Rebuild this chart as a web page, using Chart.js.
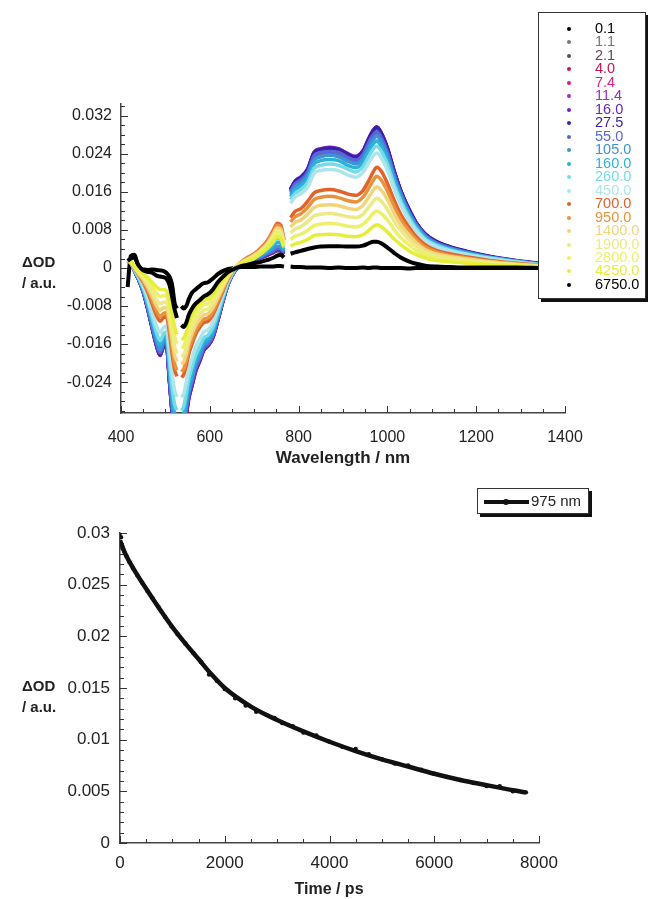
<!DOCTYPE html>
<html>
<head>
<meta charset="utf-8">
<title>Transient absorption spectra and 975 nm kinetics</title>
<script src="https://cdn.jsdelivr.net/npm/chart.js@4.4.1/dist/chart.umd.min.js"></script>
<style>
  html, body { margin: 0; padding: 0; background: #fff; overflow: hidden; }
  #page { position: relative; width: 648px; height: 899px; overflow: hidden;
          font-family: "Liberation Sans", Arial, Helvetica, sans-serif; color: #222; }
  canvas { position: absolute; left: 0; }
  .ytitle { position: absolute; left: 22px; font-weight: bold; font-size: 15px; line-height: 21px; }
  .xtitle { position: absolute; font-weight: bold; transform: translate(-50%, -50%); white-space: nowrap; }
  #spectraLegend { position: absolute; left: 538px; top: 12px; width: 108px; height: 287px;
                   box-sizing: border-box; border: 1px solid #333; box-shadow: 3px 3px 0 #111;
                   background: #fff; padding-top: 9px; }
  .entry { position: relative; height: 13.47px; line-height: 13.47px; font-size: 14.5px; }
  .entry .dot { position: absolute; left: 28px; top: 5px; width: 4px; height: 4px; border-radius: 50%; }
  .entry .lbl { position: absolute; left: 56px; top: 0; }
  #kineticLegend { position: absolute; left: 477px; top: 488px; width: 112px; height: 26px;
                   box-sizing: border-box; border: 1px solid #333; box-shadow: 3px 3px 0 #111; background: #fff; }
  #kineticLegend .line { position: absolute; left: 6px; top: 11px; width: 45px; height: 3.5px; background: #111; }
  #kineticLegend .dot { position: absolute; left: 25px; top: 10px; width: 6px; height: 6px; border-radius: 50%; background: #111; }
  #kineticLegend .lbl { position: absolute; left: 53px; top: 4px; font-size: 15px; line-height: 16px; }
</style>
</head>
<body>
<div id="page">
  <canvas id="spectraChart" width="648" height="480" style="top:0"></canvas>
  <canvas id="kineticChart" width="648" height="419" style="top:480px"></canvas>
  <div class="ytitle" style="top:251px">ΔOD<br>/ a.u.</div>
  <div class="ytitle" style="top:675px">ΔOD<br>/ a.u.</div>
  <div class="xtitle" style="left:343px; top:458px; font-size:17px">Wavelength / nm</div>
  <div class="xtitle" style="left:329px; top:889px; font-size:16px">Time / ps</div>
  <div id="spectraLegend"></div>
  <div id="kineticLegend"><div class="line"></div><div class="dot"></div><div class="lbl">975 nm</div></div>
</div>
<script>
// Wellenlängen (nm); null-Lücken bei 530 nm (Pump-Streulicht) und 773 nm (Detektorwechsel)
const wavelength = [
  415, 422, 430, 440, 450, 460, 470, 480, 488, 495, 502, 509, 515, 521, 526, 530,
  536, 541, 547, 553, 560, 568, 577, 586, 596, 607, 618, 630, 642, 655, 670, 685,
  700, 715, 730, 742, 752, 760, 767, 773,
  782, 792, 805, 820, 835, 850, 870, 890, 910, 928, 945, 958, 968, 976, 986, 1000,
  1015, 1030, 1048, 1065, 1085, 1110, 1140, 1180, 1230, 1290, 1340
];

// Verzögerungszeiten (ps) und Farben der Spektren
const delayLabels = ['0.1', '1.1', '2.1', '4.0', '7.4', '11.4', '16.0', '27.5', '55.0', '105.0',
  '160.0', '260.0', '450.0', '700.0', '950.0', '1400.0', '1900.0', '2800.0', '4250.0', '6750.0'];
const delayColors = ['#000000', '#767676', '#5c4a5c', '#c4174f', '#d8207e', '#9b2cc8', '#6a24bf',
  '#3b1fa6', '#5668d8', '#3d93d8', '#2cb2d8', '#74dbe9', '#aee5eb', '#e2622c', '#e8923c',
  '#f2d47a', '#ecea86', '#eef06a', '#e6ee3a', '#000000'];

// ΔOD-Werte je Spektrum (sichtbar | NIR)
const dOD_0_1 = [
  -0.0040, 0.0025, 0.0028, 0.0000, -0.0003, -0.0004, -0.0003, -0.0004, -0.0005, -0.0006, -0.0010, -0.0018, -0.0035, -0.0075, -0.0085, null,
  -0.0080, -0.0085, -0.0080, -0.0065, -0.0052, -0.0045, -0.0038, -0.0032, -0.0030, -0.0022, -0.0013, -0.0006, -0.0002, 0.0000, 0.0002, 0.0002,
  0.0002, 0.0003, 0.0003, 0.0003, 0.0004, 0.0004, 0.0003, null,
  0.0003, 0.0002, 0.0002, 0.0001, 0.0001, 0.0001, 0.0000, 0.0001, 0.0000, 0.0000, 0.0001, 0.0000, 0.0001, 0.0001, 0.0000, 0.0000,
  0.0000, 0.0000, -0.0001, 0.0000, 0.0000, 0.0000, 0.0000, 0.0000, 0.0000, 0.0000, 0.0000];
const dOD_1_1 = [
  0.0014, 0.0011, -0.0005, -0.0024, -0.0048, -0.0082, -0.0120, -0.0156, -0.0175, -0.0158, -0.0152, -0.0226, -0.0288, -0.0326, -0.0336, null,
  -0.0336, -0.0326, -0.0293, -0.0259, -0.0235, -0.0206, -0.0187, -0.0165, -0.0156, -0.0139, -0.0106, -0.0065, -0.0031, -0.0008, 0.0008, 0.0014,
  0.0017, 0.0021, 0.0027, 0.0032, 0.0036, 0.0035, 0.0029, null,
  0.0159, 0.0175, 0.0183, 0.0199, 0.0233, 0.0240, 0.0243, 0.0240, 0.0230, 0.0225, 0.0236, 0.0261, 0.0277, 0.0284, 0.0273, 0.0242,
  0.0196, 0.0156, 0.0119, 0.0091, 0.0068, 0.0053, 0.0042, 0.0033, 0.0023, 0.0014, 0.0009];
const dOD_2_1 = [
  0.0015, 0.0012, -0.0005, -0.0025, -0.0049, -0.0083, -0.0123, -0.0159, -0.0178, -0.0162, -0.0155, -0.0230, -0.0294, -0.0333, -0.0343, null,
  -0.0343, -0.0333, -0.0299, -0.0265, -0.0240, -0.0211, -0.0191, -0.0169, -0.0159, -0.0142, -0.0108, -0.0067, -0.0031, -0.0008, 0.0008, 0.0015,
  0.0018, 0.0022, 0.0027, 0.0032, 0.0037, 0.0036, 0.0029, null,
  0.0163, 0.0178, 0.0187, 0.0203, 0.0238, 0.0245, 0.0248, 0.0245, 0.0235, 0.0229, 0.0241, 0.0267, 0.0283, 0.0290, 0.0278, 0.0247,
  0.0200, 0.0160, 0.0122, 0.0093, 0.0070, 0.0054, 0.0043, 0.0033, 0.0024, 0.0015, 0.0009];
const dOD_4_0 = [
  0.0015, 0.0012, -0.0005, -0.0025, -0.0050, -0.0086, -0.0126, -0.0164, -0.0184, -0.0167, -0.0160, -0.0238, -0.0304, -0.0345, -0.0356, null,
  -0.0356, -0.0346, -0.0310, -0.0274, -0.0248, -0.0218, -0.0197, -0.0174, -0.0164, -0.0147, -0.0111, -0.0069, -0.0032, -0.0008, 0.0008, 0.0015,
  0.0018, 0.0022, 0.0028, 0.0033, 0.0038, 0.0037, 0.0030, null,
  0.0164, 0.0180, 0.0189, 0.0205, 0.0241, 0.0248, 0.0250, 0.0248, 0.0238, 0.0232, 0.0244, 0.0269, 0.0286, 0.0293, 0.0281, 0.0249,
  0.0202, 0.0161, 0.0123, 0.0094, 0.0070, 0.0054, 0.0044, 0.0034, 0.0024, 0.0015, 0.0009];
const dOD_7_4 = [
  0.0015, 0.0012, -0.0005, -0.0025, -0.0050, -0.0086, -0.0126, -0.0164, -0.0184, -0.0167, -0.0160, -0.0237, -0.0303, -0.0344, -0.0354, null,
  -0.0354, -0.0345, -0.0309, -0.0273, -0.0247, -0.0217, -0.0197, -0.0174, -0.0163, -0.0146, -0.0111, -0.0069, -0.0032, -0.0008, 0.0008, 0.0015,
  0.0018, 0.0022, 0.0028, 0.0033, 0.0038, 0.0037, 0.0030, null,
  0.0165, 0.0181, 0.0190, 0.0206, 0.0242, 0.0249, 0.0252, 0.0249, 0.0239, 0.0233, 0.0245, 0.0271, 0.0288, 0.0295, 0.0283, 0.0251,
  0.0203, 0.0162, 0.0124, 0.0095, 0.0071, 0.0055, 0.0044, 0.0034, 0.0024, 0.0015, 0.0009];
const dOD_11_4 = [
  0.0015, 0.0012, -0.0005, -0.0025, -0.0050, -0.0085, -0.0125, -0.0162, -0.0182, -0.0165, -0.0158, -0.0235, -0.0300, -0.0340, -0.0350, null,
  -0.0350, -0.0340, -0.0305, -0.0270, -0.0245, -0.0215, -0.0195, -0.0172, -0.0162, -0.0145, -0.0110, -0.0068, -0.0032, -0.0008, 0.0008, 0.0015,
  0.0018, 0.0022, 0.0028, 0.0033, 0.0038, 0.0037, 0.0030, null,
  0.0166, 0.0182, 0.0191, 0.0207, 0.0243, 0.0250, 0.0253, 0.0250, 0.0240, 0.0234, 0.0246, 0.0272, 0.0289, 0.0296, 0.0284, 0.0252,
  0.0204, 0.0163, 0.0124, 0.0095, 0.0071, 0.0055, 0.0044, 0.0034, 0.0024, 0.0015, 0.0009];
const dOD_16_0 = [
  0.0015, 0.0012, -0.0005, -0.0025, -0.0050, -0.0085, -0.0125, -0.0163, -0.0183, -0.0166, -0.0159, -0.0236, -0.0301, -0.0341, -0.0351, null,
  -0.0351, -0.0341, -0.0306, -0.0271, -0.0246, -0.0216, -0.0196, -0.0173, -0.0163, -0.0146, -0.0110, -0.0068, -0.0032, -0.0008, 0.0008, 0.0015,
  0.0018, 0.0022, 0.0028, 0.0034, 0.0039, 0.0038, 0.0031, null,
  0.0166, 0.0183, 0.0192, 0.0208, 0.0244, 0.0251, 0.0254, 0.0251, 0.0241, 0.0235, 0.0247, 0.0273, 0.0290, 0.0297, 0.0285, 0.0253,
  0.0205, 0.0163, 0.0125, 0.0095, 0.0071, 0.0055, 0.0045, 0.0034, 0.0024, 0.0015, 0.0009];
const dOD_27_5 = [
  0.0015, 0.0012, -0.0005, -0.0025, -0.0050, -0.0085, -0.0125, -0.0162, -0.0182, -0.0165, -0.0158, -0.0234, -0.0299, -0.0338, -0.0348, null,
  -0.0348, -0.0338, -0.0304, -0.0269, -0.0244, -0.0214, -0.0194, -0.0171, -0.0161, -0.0144, -0.0109, -0.0068, -0.0032, -0.0008, 0.0008, 0.0015,
  0.0018, 0.0023, 0.0029, 0.0034, 0.0040, 0.0039, 0.0031, null,
  0.0165, 0.0181, 0.0190, 0.0206, 0.0242, 0.0249, 0.0252, 0.0249, 0.0239, 0.0233, 0.0245, 0.0271, 0.0288, 0.0296, 0.0284, 0.0252,
  0.0204, 0.0163, 0.0125, 0.0095, 0.0072, 0.0056, 0.0045, 0.0035, 0.0025, 0.0016, 0.0010];
const dOD_55 = [
  0.0015, 0.0012, -0.0005, -0.0025, -0.0049, -0.0083, -0.0123, -0.0159, -0.0179, -0.0162, -0.0155, -0.0230, -0.0294, -0.0334, -0.0344, null,
  -0.0344, -0.0334, -0.0300, -0.0266, -0.0241, -0.0211, -0.0192, -0.0169, -0.0160, -0.0143, -0.0108, -0.0067, -0.0032, -0.0008, 0.0008, 0.0015,
  0.0019, 0.0023, 0.0030, 0.0035, 0.0041, 0.0040, 0.0032, null,
  0.0161, 0.0177, 0.0185, 0.0201, 0.0236, 0.0243, 0.0245, 0.0243, 0.0233, 0.0227, 0.0239, 0.0264, 0.0280, 0.0287, 0.0275, 0.0244,
  0.0198, 0.0158, 0.0120, 0.0092, 0.0069, 0.0053, 0.0043, 0.0033, 0.0023, 0.0015, 0.0009];
const dOD_105 = [
  0.0015, 0.0012, -0.0004, -0.0024, -0.0047, -0.0080, -0.0118, -0.0153, -0.0172, -0.0156, -0.0150, -0.0220, -0.0282, -0.0321, -0.0332, null,
  -0.0332, -0.0323, -0.0290, -0.0257, -0.0232, -0.0204, -0.0185, -0.0163, -0.0155, -0.0138, -0.0105, -0.0065, -0.0031, -0.0007, 0.0009, 0.0016,
  0.0020, 0.0025, 0.0033, 0.0040, 0.0046, 0.0045, 0.0035, null,
  0.0155, 0.0170, 0.0179, 0.0194, 0.0227, 0.0234, 0.0237, 0.0234, 0.0225, 0.0219, 0.0230, 0.0255, 0.0270, 0.0277, 0.0266, 0.0236,
  0.0191, 0.0153, 0.0116, 0.0089, 0.0066, 0.0051, 0.0041, 0.0032, 0.0022, 0.0014, 0.0008];
const dOD_160 = [
  0.0015, 0.0011, -0.0004, -0.0022, -0.0044, -0.0075, -0.0111, -0.0145, -0.0162, -0.0148, -0.0142, -0.0207, -0.0266, -0.0305, -0.0316, null,
  -0.0316, -0.0308, -0.0277, -0.0245, -0.0221, -0.0194, -0.0175, -0.0156, -0.0148, -0.0132, -0.0100, -0.0062, -0.0029, -0.0006, 0.0009, 0.0017,
  0.0021, 0.0028, 0.0036, 0.0046, 0.0054, 0.0052, 0.0038, null,
  0.0150, 0.0164, 0.0172, 0.0187, 0.0219, 0.0226, 0.0228, 0.0226, 0.0216, 0.0211, 0.0222, 0.0245, 0.0261, 0.0267, 0.0256, 0.0227,
  0.0184, 0.0147, 0.0112, 0.0086, 0.0064, 0.0050, 0.0040, 0.0031, 0.0022, 0.0014, 0.0008];
const dOD_260 = [
  0.0015, 0.0011, -0.0003, -0.0021, -0.0042, -0.0070, -0.0104, -0.0136, -0.0153, -0.0140, -0.0134, -0.0193, -0.0250, -0.0288, -0.0299, null,
  -0.0300, -0.0292, -0.0263, -0.0232, -0.0209, -0.0184, -0.0166, -0.0148, -0.0141, -0.0125, -0.0095, -0.0060, -0.0028, -0.0005, 0.0010, 0.0018,
  0.0023, 0.0030, 0.0041, 0.0052, 0.0062, 0.0059, 0.0043, null,
  0.0144, 0.0157, 0.0165, 0.0179, 0.0210, 0.0216, 0.0219, 0.0216, 0.0208, 0.0202, 0.0213, 0.0235, 0.0250, 0.0256, 0.0246, 0.0218,
  0.0176, 0.0141, 0.0107, 0.0082, 0.0061, 0.0048, 0.0038, 0.0029, 0.0021, 0.0013, 0.0008];
const dOD_450 = [
  0.0015, 0.0011, -0.0002, -0.0018, -0.0037, -0.0062, -0.0093, -0.0122, -0.0136, -0.0126, -0.0122, -0.0170, -0.0222, -0.0259, -0.0271, null,
  -0.0272, -0.0265, -0.0240, -0.0212, -0.0190, -0.0166, -0.0150, -0.0135, -0.0130, -0.0114, -0.0087, -0.0055, -0.0026, -0.0004, 0.0011, 0.0020,
  0.0026, 0.0035, 0.0048, 0.0062, 0.0074, 0.0071, 0.0050, null,
  0.0136, 0.0149, 0.0156, 0.0169, 0.0199, 0.0205, 0.0207, 0.0205, 0.0196, 0.0191, 0.0201, 0.0222, 0.0236, 0.0242, 0.0232, 0.0206,
  0.0167, 0.0133, 0.0101, 0.0078, 0.0058, 0.0045, 0.0036, 0.0028, 0.0020, 0.0012, 0.0007];
const dOD_700 = [
  0.0015, 0.0010, 0.0000, -0.0015, -0.0030, -0.0050, -0.0075, -0.0100, -0.0112, -0.0105, -0.0102, -0.0135, -0.0180, -0.0215, -0.0228, null,
  -0.0230, -0.0225, -0.0205, -0.0180, -0.0160, -0.0140, -0.0125, -0.0115, -0.0112, -0.0098, -0.0075, -0.0048, -0.0022, -0.0002, 0.0012, 0.0022,
  0.0030, 0.0042, 0.0058, 0.0078, 0.0094, 0.0090, 0.0060, null,
  0.0106, 0.0119, 0.0125, 0.0140, 0.0158, 0.0163, 0.0165, 0.0162, 0.0156, 0.0153, 0.0163, 0.0184, 0.0202, 0.0212, 0.0204, 0.0178,
  0.0143, 0.0113, 0.0087, 0.0066, 0.0049, 0.0037, 0.0030, 0.0023, 0.0016, 0.0010, 0.0006];
const dOD_950 = [
  0.0015, 0.0011, 0.0001, -0.0014, -0.0027, -0.0046, -0.0068, -0.0091, -0.0102, -0.0096, -0.0094, -0.0125, -0.0167, -0.0202, -0.0215, null,
  -0.0218, -0.0213, -0.0195, -0.0170, -0.0151, -0.0132, -0.0118, -0.0108, -0.0105, -0.0092, -0.0070, -0.0045, -0.0020, -0.0002, 0.0011, 0.0021,
  0.0029, 0.0040, 0.0056, 0.0075, 0.0090, 0.0086, 0.0058, null,
  0.0097, 0.0108, 0.0114, 0.0127, 0.0144, 0.0149, 0.0151, 0.0148, 0.0142, 0.0139, 0.0149, 0.0168, 0.0184, 0.0193, 0.0185, 0.0162,
  0.0130, 0.0103, 0.0079, 0.0060, 0.0044, 0.0034, 0.0027, 0.0021, 0.0014, 0.0009, 0.0006];
const dOD_1400 = [
  0.0016, 0.0012, 0.0002, -0.0012, -0.0024, -0.0040, -0.0059, -0.0079, -0.0089, -0.0084, -0.0083, -0.0111, -0.0150, -0.0184, -0.0197, null,
  -0.0202, -0.0198, -0.0181, -0.0157, -0.0138, -0.0121, -0.0108, -0.0099, -0.0096, -0.0083, -0.0063, -0.0040, -0.0018, -0.0001, 0.0011, 0.0019,
  0.0027, 0.0038, 0.0052, 0.0070, 0.0084, 0.0081, 0.0055, null,
  0.0086, 0.0096, 0.0101, 0.0113, 0.0127, 0.0132, 0.0133, 0.0131, 0.0126, 0.0123, 0.0132, 0.0149, 0.0163, 0.0171, 0.0164, 0.0144,
  0.0115, 0.0091, 0.0070, 0.0053, 0.0039, 0.0030, 0.0024, 0.0019, 0.0013, 0.0008, 0.0005];
const dOD_1900 = [
  0.0017, 0.0013, 0.0003, -0.0010, -0.0020, -0.0034, -0.0050, -0.0067, -0.0075, -0.0072, -0.0072, -0.0097, -0.0133, -0.0166, -0.0180, null,
  -0.0186, -0.0183, -0.0167, -0.0144, -0.0126, -0.0110, -0.0098, -0.0089, -0.0086, -0.0074, -0.0056, -0.0035, -0.0015, -0.0001, 0.0010, 0.0018,
  0.0025, 0.0035, 0.0049, 0.0065, 0.0079, 0.0075, 0.0052, null,
  0.0074, 0.0082, 0.0087, 0.0097, 0.0110, 0.0113, 0.0115, 0.0112, 0.0108, 0.0106, 0.0113, 0.0128, 0.0140, 0.0147, 0.0141, 0.0123,
  0.0099, 0.0079, 0.0060, 0.0046, 0.0034, 0.0026, 0.0021, 0.0016, 0.0011, 0.0007, 0.0004];
const dOD_2800 = [
  0.0017, 0.0014, 0.0004, -0.0007, -0.0016, -0.0027, -0.0040, -0.0053, -0.0060, -0.0058, -0.0060, -0.0080, -0.0114, -0.0145, -0.0159, null,
  -0.0168, -0.0165, -0.0150, -0.0129, -0.0112, -0.0097, -0.0086, -0.0078, -0.0075, -0.0064, -0.0048, -0.0030, -0.0013, 0.0000, 0.0009, 0.0016,
  0.0022, 0.0033, 0.0046, 0.0060, 0.0072, 0.0069, 0.0048, null,
  0.0060, 0.0067, 0.0071, 0.0079, 0.0089, 0.0092, 0.0094, 0.0092, 0.0088, 0.0086, 0.0092, 0.0104, 0.0115, 0.0120, 0.0115, 0.0101,
  0.0081, 0.0064, 0.0049, 0.0037, 0.0028, 0.0021, 0.0017, 0.0013, 0.0009, 0.0005, 0.0004];
const dOD_4250 = [
  0.0018, 0.0015, 0.0005, -0.0005, -0.0012, -0.0020, -0.0030, -0.0040, -0.0045, -0.0045, -0.0048, -0.0065, -0.0095, -0.0125, -0.0140, null,
  -0.0150, -0.0148, -0.0135, -0.0115, -0.0098, -0.0085, -0.0075, -0.0068, -0.0065, -0.0055, -0.0040, -0.0025, -0.0010, 0.0000, 0.0008, 0.0014,
  0.0020, 0.0030, 0.0042, 0.0055, 0.0066, 0.0063, 0.0045, null,
  0.0046, 0.0051, 0.0054, 0.0060, 0.0068, 0.0070, 0.0071, 0.0070, 0.0067, 0.0066, 0.0070, 0.0079, 0.0087, 0.0091, 0.0087, 0.0076,
  0.0061, 0.0049, 0.0037, 0.0028, 0.0021, 0.0016, 0.0013, 0.0010, 0.0007, 0.0004, 0.0003];
const dOD_6750 = [
  0.0015, 0.0020, 0.0022, 0.0005, -0.0005, -0.0008, -0.0010, -0.0016, -0.0018, -0.0019, -0.0022, -0.0035, -0.0060, -0.0088, -0.0105, null,
  -0.0120, -0.0124, -0.0115, -0.0098, -0.0085, -0.0075, -0.0068, -0.0060, -0.0055, -0.0045, -0.0030, -0.0018, -0.0008, -0.0002, 0.0004, 0.0007,
  0.0010, 0.0013, 0.0017, 0.0021, 0.0026, 0.0028, 0.0022, null,
  0.0030, 0.0033, 0.0036, 0.0040, 0.0043, 0.0045, 0.0046, 0.0046, 0.0045, 0.0045, 0.0047, 0.0052, 0.0055, 0.0055, 0.0052, 0.0043,
  0.0032, 0.0022, 0.0014, 0.0009, 0.0005, 0.0003, 0.0002, 0.0001, 0.0001, 0.0001, 0.0000];

const spectra = [dOD_0_1, dOD_1_1, dOD_2_1, dOD_4_0, dOD_7_4, dOD_11_4, dOD_16_0, dOD_27_5, dOD_55, dOD_105,
  dOD_160, dOD_260, dOD_450, dOD_700, dOD_950, dOD_1400, dOD_1900, dOD_2800, dOD_4250, dOD_6750];

// Kinetik bei 975 nm: Messpunkte und Fit
const kinTime = [0, 20, 50, 80, 120, 180, 250, 330, 420, 520, 620, 740, 860, 980, 1100, 1250, 1400, 1550, 1700, 1850,
  2000, 2200, 2400, 2600, 2800, 2950, 3100, 3300, 3500, 3750, 4000, 4250, 4500, 4750, 5000, 5250, 5500, 5750, 6000, 6250,
  6500, 6750, 7000, 7250, 7500, 7750];
const kinDOD = [0.0300, 0.0296, 0.0285, 0.0282, 0.0278, 0.0272, 0.0266, 0.0259, 0.0252, 0.0244, 0.0237, 0.0228, 0.0219, 0.0210,
  0.0202, 0.0193, 0.0184, 0.0175, 0.0163, 0.0157, 0.0149, 0.0140, 0.0133, 0.0127, 0.0124, 0.0121, 0.0116, 0.0113, 0.0107,
  0.0104, 0.0098, 0.0093, 0.0091, 0.0086, 0.0081, 0.0077, 0.0075, 0.0071, 0.0067, 0.0064, 0.0061, 0.0058, 0.0055, 0.0055,
  0.0050, 0.0049];
const fitTime = [0, 100, 250, 500, 750, 1000, 1250, 1500, 1750, 2000, 2500, 3000, 3500, 4000, 4500, 5000, 5500, 6000, 6500, 7000, 7500, 7750];
const fitDOD = [0.0293, 0.0280, 0.0266, 0.0246, 0.0227, 0.0209, 0.0193, 0.0178, 0.0163, 0.0150, 0.0132, 0.0119, 0.0108, 0.0098,
  0.0089, 0.0081, 0.0074, 0.0067, 0.0061, 0.0056, 0.0051, 0.0049];

// Achsenbeschriftungen
const wlTicks = [400, 600, 800, 1000, 1200, 1400];
const wlTickLabels = ['400', '600', '800', '1000', '1200', '1400'];
const specYTicks = [0.032, 0.024, 0.016, 0.008, 0, -0.008, -0.016, -0.024];
const specYTickLabels = ['0.032', '0.024', '0.016', '0.008', '0', '-0.008', '-0.016', '-0.024'];
const timeTicks = [0, 2000, 4000, 6000, 8000];
const timeTickLabels = ['0', '2000', '4000', '6000', '8000'];
const kinYTicks = [0, 0.005, 0.01, 0.015, 0.02, 0.025, 0.03];
const kinYTickLabels = ['0', '0.005', '0.01', '0.015', '0.02', '0.025', '0.03'];

Chart.defaults.font.family = '"Liberation Sans", Arial, Helvetica, sans-serif';
Chart.defaults.color = '#222';

// Werte von..bis in festen Schritten (für Nebenteilstriche)
function steps(from, to, step) {
  const out = [];
  for (let v = from; v <= to + step / 2; v += step) out.push(Math.round(v * 1e6) / 1e6);
  return out;
}

// Zeichnet nach innen gerichtete Teilstriche an der unteren und linken Achse
const inwardTicks = {
  id: 'inwardTicks',
  beforeDatasetsDraw(chart, args, opts) {
    const { ctx, chartArea, scales } = chart;
    ctx.save();
    ctx.strokeStyle = '#333';
    ctx.lineWidth = 1;
    ctx.beginPath();
    opts.marks.forEach(m => {
      const scale = scales[m.axis];
      m.values.forEach(v => {
        const p = Math.round(scale.getPixelForValue(v)) + 0.5;
        if (m.axis === 'x') {
          ctx.moveTo(p, chartArea.bottom);
          ctx.lineTo(p, chartArea.bottom - m.len);
        } else {
          ctx.moveTo(chartArea.left, p);
          ctx.lineTo(chartArea.left + m.len, p);
        }
      });
    });
    ctx.stroke();
    ctx.restore();
  }
};

// Gemeinsame Achsen-Einstellungen
function axis(min, max, tickValues, tickLabels, fontSize, pad, fit) {
  return {
    type: 'linear',
    min: min,
    max: max,
    afterBuildTicks: s => { s.ticks = tickValues.map(v => ({ value: v })); },
    afterFit: fit,
    grid: { display: false, drawTicks: false },
    border: { display: true, color: '#444', width: 1.5 },
    ticks: {
      autoSkip: false,
      maxRotation: 0,
      padding: pad,
      font: { size: fontSize },
      color: '#222',
      callback: (v, i) => tickLabels[i]
    }
  };
}

// Legende für die Spektren
const legendEl = document.getElementById('spectraLegend');
delayLabels.forEach((label, i) => {
  const row = document.createElement('div');
  row.className = 'entry';
  row.innerHTML = `<span class="dot" style="background:${delayColors[i]}"></span>` +
                  `<span class="lbl" style="color:${delayColors[i]}">${label}</span>`;
  legendEl.appendChild(row);
});

// Oberes Diagramm: transiente Spektren
new Chart(document.getElementById('spectraChart').getContext('2d'), {
  type: 'line',
  data: {
    datasets: spectra.map((values, i) => ({
      label: delayLabels[i],
      data: values.map((v, j) => ({ x: wavelength[j], y: v })),
      borderColor: delayColors[i],
      backgroundColor: delayColors[i],
      borderWidth: (i === 0 || i === spectra.length - 1) ? 4 : 3.5,
      pointRadius: 0,
      spanGaps: false,
      cubicInterpolationMode: 'monotone',
      order: spectra.length - i   // spätere Spektren liegen oben
    }))
  },
  options: {
    responsive: false,
    animation: false,
    devicePixelRatio: 1,
    layout: { padding: { left: 0, right: 83, top: 104, bottom: 0 } },
    scales: {
      x: axis(400, 1400, wlTicks, wlTickLabels, 16, 15, s => { s.height = 67; }),
      y: axis(-0.0305, 0.0345, specYTicks, specYTickLabels, 16, 9, s => { s.width = 121; })
    },
    plugins: {
      legend: { display: false },
      tooltip: { enabled: false },
      inwardTicks: {
        marks: [
          { axis: 'x', values: steps(400, 1400, 50), len: 4 },
          { axis: 'x', values: wlTicks, len: 7 },
          { axis: 'y', values: steps(-0.030, 0.034, 0.002), len: 4 },
          { axis: 'y', values: specYTicks, len: 7 }
        ]
      }
    }
  },
  plugins: [inwardTicks]
});

// Unteres Diagramm: Kinetik bei 975 nm
new Chart(document.getElementById('kineticChart').getContext('2d'), {
  type: 'line',
  data: {
    datasets: [
      {
        label: '975 nm',
        data: kinTime.map((t, i) => ({ x: t, y: kinDOD[i] })),
        showLine: false,
        pointRadius: 2.2,
        pointBorderWidth: 0,
        pointBackgroundColor: '#111',
        borderColor: '#111'
      },
      {
        label: 'Fit',
        data: fitTime.map((t, i) => ({ x: t, y: fitDOD[i] })),
        borderColor: '#111',
        borderWidth: 4.5,
        pointRadius: 0,
        cubicInterpolationMode: 'monotone'
      }
    ]
  },
  options: {
    responsive: false,
    animation: false,
    devicePixelRatio: 1,
    layout: { padding: { left: 0, right: 109, top: 53, bottom: 0 } },
    scales: {
      x: axis(0, 8000, timeTicks, timeTickLabels, 17, 10, s => { s.height = 56; }),
      y: axis(0, 0.03, kinYTicks, kinYTickLabels, 17, 10, s => { s.width = 120; })
    },
    plugins: {
      legend: { display: false },
      tooltip: { enabled: false },
      inwardTicks: {
        marks: [
          { axis: 'x', values: steps(0, 8000, 500), len: 4 },
          { axis: 'x', values: timeTicks, len: 7 },
          { axis: 'y', values: steps(0, 0.03, 0.001), len: 4 },
          { axis: 'y', values: kinYTicks, len: 7 }
        ]
      }
    }
  },
  plugins: [inwardTicks]
});
</script>
</body>
</html>
